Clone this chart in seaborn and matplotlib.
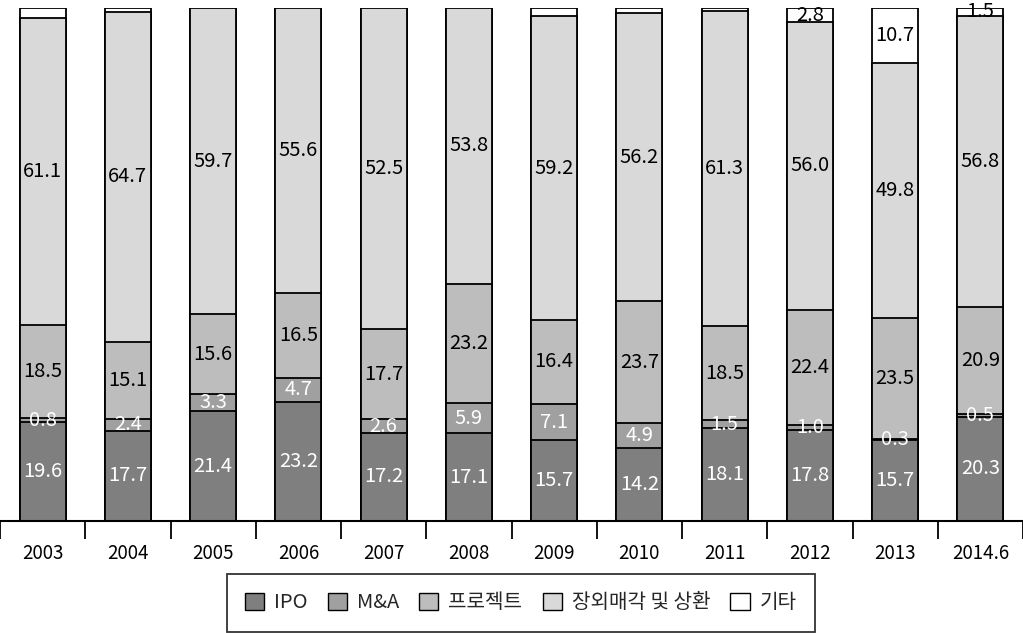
import numpy as np
import pandas as pd
import matplotlib
matplotlib.use("Agg")
import matplotlib.pyplot as plt
from matplotlib.patches import Patch
from matplotlib.ticker import FixedLocator
import seaborn as sns

years = ["2003", "2004", "2005", "2006", "2007", "2008", "2009", "2010", "2011", "2012", "2013", "2014.6"]
series_names = ["IPO", "M&A", "프로젝트", "장외매각 및 상환", "기타"]
ipo = [19.6, 17.7, 21.4, 23.2, 17.2, 17.1, 15.7, 14.2, 18.1, 17.8, 15.7, 20.3]
mna = [0.8, 2.4, 3.3, 4.7, 2.6, 5.9, 7.1, 4.9, 1.5, 1.0, 0.3, 0.5]
project = [18.5, 15.1, 15.6, 16.5, 17.7, 23.2, 16.4, 23.7, 18.5, 22.4, 23.5, 20.9]
outside = [61.1, 64.7, 59.7, 55.6, 62.5, 53.8, 59.2, 56.2, 61.3, 56.0, 49.8, 56.8]
other = [2.0, 0.8, 0.0, 0.0, 0.0, 0.0, 1.6, 1.0, 0.6, 2.8, 10.7, 1.5]
# printed label texts (as shown in the chart)
outside_text = ["61.1", "64.7", "59.7", "55.6", "52.5", "53.8", "59.2", "56.2", "61.3", "56.0", "49.8", "56.8"]
other_text = ["", "", "", "", "", "", "", "", "", "2.8", "10.7", "1.5"]

colors = ["#7f7f7f", "#a0a0a0", "#bdbdbd", "#d9d9d9", "#ffffff"]
text_colors = ["white", "white", "black", "black", "black"]

sns.set_theme(style="white")
plt.rcParams["font.family"] = ["Noto Sans CJK KR", "DejaVu Sans"]

layers = np.array([ipo, mna, project, outside, other], dtype=float)
totals = layers.sum(axis=0)
shares = layers / totals * 100.0          # 100% stacked
cum = np.cumsum(shares, axis=0)

fig = plt.figure(figsize=(10.23, 6.33), dpi=100)
ax = fig.add_axes([0.0, 0.1769, 1.0, 0.8105])

for i in range(len(series_names) - 1, -1, -1):
    df = pd.DataFrame({"year": years, "val": cum[i]})
    sns.barplot(data=df, x="year", y="val", color=colors[i], saturation=1,
                edgecolor="black", linewidth=1.3, width=0.54, ax=ax, order=years)

# labels
label_texts = [
    [f"{v:.1f}" for v in ipo],
    [f"{v:.1f}" for v in mna],
    [f"{v:.1f}" for v in project],
    outside_text,
    other_text,
]
for i in range(len(series_names)):
    for j in range(len(years)):
        txt = label_texts[i][j]
        if not txt:
            continue
        lower = cum[i - 1][j] if i > 0 else 0.0
        mid = (lower + cum[i][j]) / 2
        ax.text(j, mid, txt, ha="center", va="center", fontsize=14.5,
                color=text_colors[i])

ax.set_ylim(0, 100)
ax.set_xlim(-0.5, len(years) - 0.5)
ax.set_xlabel("")
ax.set_ylabel("")
ax.set_yticks([])
for s in ["left", "right", "top"]:
    ax.spines[s].set_visible(False)
ax.spines["bottom"].set_color("black")
ax.spines["bottom"].set_linewidth(1.5)

ax.tick_params(axis="x", which="major", length=0, pad=16, labelsize=13.5, colors="black")
ax.xaxis.set_minor_locator(FixedLocator(np.arange(-0.5, len(years), 1.0) + np.r_[0.004, np.zeros(len(years) - 1), -0.004]))
ax.tick_params(axis="x", which="minor", length=13, width=1.3, color="black", direction="out", bottom=True)

handles = [Patch(facecolor=c, edgecolor="black", linewidth=1.0) for c in colors]
leg = fig.legend(handles, series_names, loc="center", bbox_to_anchor=(0.509, 0.0475),
                 ncol=5, frameon=True, fontsize=14.5, handlelength=0.95, handleheight=0.95,
                 handletextpad=0.5, columnspacing=1.0, borderpad=0.9, fancybox=False)
leg.get_frame().set_edgecolor("black")
leg.get_frame().set_linewidth(1.3)

fig.savefig("out.png", dpi=100)
